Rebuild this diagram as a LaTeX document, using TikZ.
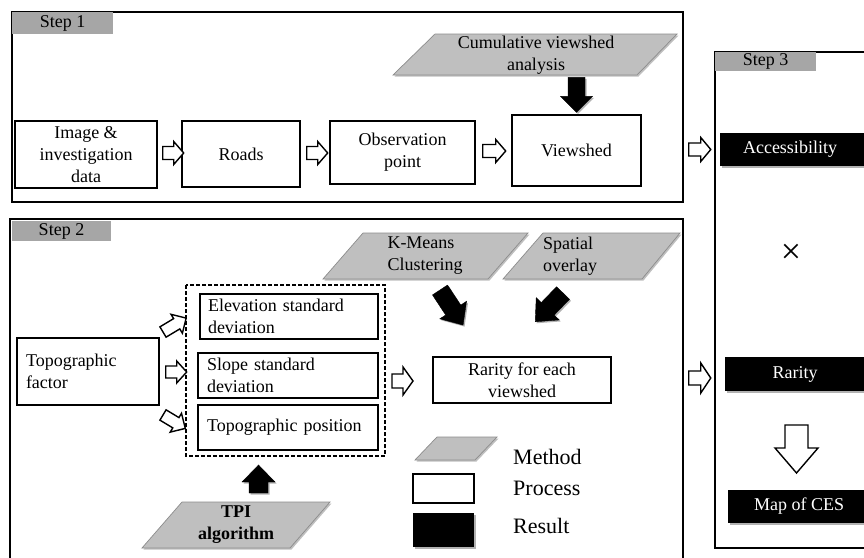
\documentclass[tikz,border=0pt]{standalone}
\usepackage{fontspec}
\setmainfont{Liberation Serif}
\usetikzlibrary{shadows,calc}
\definecolor{stepgray}{RGB}{166,166,166}
\definecolor{methgray}{RGB}{191,191,191}
\definecolor{methedge}{RGB}{140,140,140}
\newcommand{\fs}{\fontsize{18}{22}\selectfont}
\newcommand{\fl}{\fontsize{22}{26}\selectfont}
% style, tail, angle, length, shaft half, head half, head length
\newcommand{\blockarr}[7]{%
  \begin{scope}[shift={#2}, rotate=#3]
    \draw[#1] (0,-#5) -- ({#4-#7},-#5) -- ({#4-#7},-#6) -- (#4,0) -- ({#4-#7},#6) -- ({#4-#7},#5) -- (0,#5) -- cycle;
  \end{scope}}
\tikzset{
  frame/.style={draw, line width=1.5pt, inner sep=0pt},
  steplab/.style={fill=stepgray, inner sep=0pt, minimum width=101pt, font=\fs},
  procbox/.style={draw, line width=1.4pt, fill=white, inner sep=0pt, align=center, font=\fs},
  hollow/.style={draw, fill=white, line width=1.4pt, line join=miter},
  solid/.style={fill=black, draw=black, line join=miter,
    drop shadow={shadow xshift=1.5pt, shadow yshift=-1.5pt, opacity=.3, fill=black}},
  method/.style={fill=methgray, draw=methedge, line width=0.7pt,
    drop shadow={shadow xshift=1.5pt, shadow yshift=-1.5pt, opacity=.25, fill=black}},
  resultfill/.style={fill=black,
    drop shadow={shadow xshift=1.5pt, shadow yshift=-1.5pt, opacity=.3, fill=black}},
  restext/.style={text=white, font=\fs, inner sep=0pt},
  txt/.style={font=\fs, inner sep=0pt, align=center},
}
\begin{document}
\begin{tikzpicture}[x=1pt,y=-1pt]
\useasboundingbox (0,0) rectangle (864,557);
\clip (0,0) rectangle (864,557);
\fill[white] (0,0) rectangle (864,557);

% ---------------- frames ----------------
\node[frame, minimum width=671pt, minimum height=190pt] (s1) at (347.5,107) {};
\node[frame, minimum width=673pt, minimum height=356pt] (s2) at (346.5,397) {};
\node[frame, minimum width=165pt, minimum height=496pt] (s3) at (797.5,300) {};
\node[steplab, minimum height=22pt] (l1) at (62.5,23) {Step 1};
\node[steplab, minimum height=20pt, minimum width=99pt] (l2) at (61.5,231) {Step 2};
\node[steplab, minimum height=19pt] (l3) at (765.5,61.5) {Step 3};

% ---------------- Step 1 ----------------
\node[procbox, minimum width=142pt, minimum height=67pt] (img) at (86,154.5) {Image \&\\investigation\\data};
\node[procbox, minimum width=118pt, minimum height=66pt] (roads) at (241,154) {Roads};
\node[procbox, minimum width=145pt, minimum height=63pt] (obs) at (402.5,152.5) {Observation\\point};
\node[procbox, minimum width=129pt, minimum height=71pt] (view) at (576.5,150.5) {Viewshed};

\draw[method] (393,75) -- (435,34) -- (677,34) -- (637,75) -- cycle;
\node[txt] (cva) at (536,55) {Cumulative viewshed\\analysis};

\blockarr{hollow}{($(img.east)+(5,-1.5)$)}{0}{21}{6.5}{11.5}{10}
\blockarr{hollow}{($(roads.east)+(6,-1)$)}{0}{21}{6.5}{11.5}{10}
\blockarr{hollow}{($(obs.east)+(7,-1.5)$)}{0}{23}{6.5}{11.5}{10}
\blockarr{solid}{($(view.north)+(0,-37)$)}{-90}{35}{8.5}{16}{16}

% ---------------- Step 2 ----------------
\node[procbox, minimum width=142pt, minimum height=67pt, text width=124pt, align=left] (topo) at (88,371.5) {Topographic\\factor};
\draw[line width=1.2pt, dash pattern=on 4pt off 2pt] (186,285) rectangle (385,456);
\coordinate (dash) at (285.5,370.5);
\node[procbox, minimum width=178pt, minimum height=45pt, text width=162pt, align=left] (elev) at (289,316.5) {Elevation standard\\deviation};
\node[procbox, minimum width=180pt, minimum height=45pt, text width=162pt, align=left] (slope) at (288,375.5) {Slope standard\\deviation};
\node[procbox, minimum width=180pt, minimum height=45pt, text width=162pt, align=left] (tpos) at (288,427.5) {Topographic position};

\node[procbox, minimum width=178pt, minimum height=46pt] (rare) at (522,380) {Rarity for each\\viewshed};

\draw[method] (323,279) -- (363,233) -- (528,233) -- (488,279) -- cycle;
\node[txt, align=left] (km) at (425,256) {K-Means\\Clustering};
\draw[method] (503,279) -- (543,233) -- (680,233) -- (642,279) -- cycle;
\node[txt, align=left] (so) at (570,256) {Spatial\\overlay};

\draw[method] (142,548) -- (182,502) -- (330,502) -- (290,548) -- cycle;
\node[txt, font=\fs\bfseries] (tpi) at (236,525) {TPI\\algorithm};

\blockarr{hollow}{(163,332)}{31}{27}{6}{11}{11}
\blockarr{hollow}{($(topo.east)+(6,0.5)$)}{0}{21}{6}{11}{10}
\blockarr{hollow}{(163,415)}{-31}{26}{6}{11}{11}
\blockarr{hollow}{(392,381)}{0}{21}{7}{14}{10}
\blockarr{solid}{(258.5,493)}{90}{28}{9.5}{16.5}{17}
\blockarr{solid}{(440,290)}{-56.7}{42}{9}{16}{18}
\blockarr{solid}{(563,293)}{-134}{40}{9}{16}{18}

% legend
\draw[method] (415,460) -- (437,437) -- (497,437) -- (475,460) -- cycle;
\draw[line width=1.4pt] (413,474) rectangle (474,503);
\fill[resultfill] (413,513) rectangle (474,547);
\node[anchor=west, font=\fl, inner sep=0pt] (lm) at (513,457) {Method};
\node[anchor=west, font=\fl, inner sep=0pt] (lp) at (513,488) {Process};
\node[anchor=west, font=\fl, inner sep=0pt] (lr) at (513,526) {Result};

% ---------------- Step 3 ----------------
\fill[resultfill] (720,133) rectangle (880,166);
\node[restext] (acc) at (790,149.5) {Accessibility};
\node[font=\fontsize{36}{36}\selectfont, inner sep=0pt] (times) at (791,254) {×};
\fill[resultfill] (725,357) rectangle (880,391);
\node[restext] (rar) at (795,374) {Rarity};
\fill[resultfill] (728,490) rectangle (880,523);
\node[restext] (map) at (799,506.5) {Map of CES};

\blockarr{hollow}{($(s1.east|-acc)+(5,0)$)}{0}{22}{6.5}{12}{10}
\blockarr{hollow}{($(s2.east|-rar)+(5,4)$)}{0}{22}{7}{15}{10}
\blockarr{hollow}{(796.5,425)}{-90}{48}{11.5}{21.5}{25}
\end{tikzpicture}
\end{document}
